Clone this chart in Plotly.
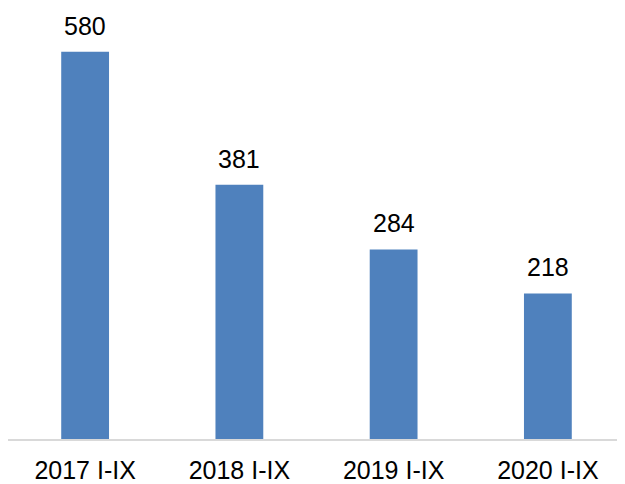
import plotly.graph_objects as go

categories = ["2017 I-IX", "2018 I-IX", "2019 I-IX", "2020 I-IX"]
values = [580, 381, 284, 218]

fig = go.Figure()
fig.add_trace(go.Bar(x=categories, y=values, marker_color="#4F81BD",
                     marker_line_width=0, width=0.31))

for c, v in zip(categories, values):
    fig.add_annotation(x=c, y=v, text=str(v), showarrow=False,
                       yanchor="bottom", yshift=10,
                       font=dict(family="Liberation Sans, Arial", size=25, color="#000000"))

fig.update_layout(
    width=617, height=476,
    margin=dict(l=0, r=0, t=0, b=43),
    plot_bgcolor="white", paper_bgcolor="white",
    showlegend=False,
    font=dict(family="Liberation Sans, Arial", size=25, color="#000000"),
)
fig.update_xaxes(showline=True, linecolor="#D9D9D9", linewidth=2, ticks="",
                 ticklabelstandoff=8,
                 tickfont=dict(size=25, color="#000000"))
fig.update_yaxes(range=[0, 645.6], visible=False, showgrid=False)

fig.write_html("out.html")
